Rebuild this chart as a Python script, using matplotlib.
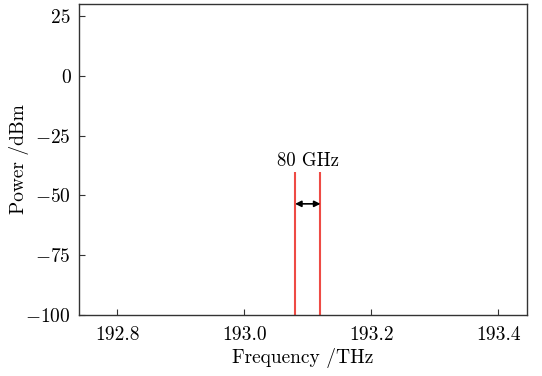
import matplotlib
matplotlib.use("Agg")
import matplotlib.pyplot as plt

# Datos del espectro: dos portadoras separadas 80 GHz
frecuencias_pico = [193.08, 193.12]   # THz
potencias_pico = [-40, -40]           # dBm
piso_ruido = -110                     # dBm (fuera del rango visible)

etiqueta_sep = "80 GHz"
ticks_x = [192.8, 193.0, 193.2, 193.4]
ticks_y = [25, 0, -25, -50, -75, -100]

plt.rcParams["font.family"] = "cmr10"
plt.rcParams["axes.formatter.use_mathtext"] = True
plt.rcParams["mathtext.fontset"] = "cm"

fig = plt.figure(figsize=(5.42, 3.76), dpi=100)
ax = fig.add_axes([79 / 542, 1 - 315 / 376, 448 / 542, 311 / 376])

ax.vlines(frecuencias_pico, piso_ruido, potencias_pico, color="#ee4b45", linewidth=1.5)

# Flecha de separación
ax.annotate("", xy=(frecuencias_pico[0], -53.5), xytext=(frecuencias_pico[1], -53.5),
            arrowprops=dict(arrowstyle="<|-|>", color="black", lw=1.2,
                            shrinkA=0, shrinkB=0, mutation_scale=9))
ax.text(sum(frecuencias_pico) / 2, -39.5, etiqueta_sep, ha="center", va="bottom", fontsize=13.5)

ax.set_xlim(192.74, 193.445)
ax.set_ylim(-100, 30.1)
ax.set_xticks(ticks_x)
ax.set_xticklabels([f"{t:.1f}" for t in ticks_x])
ax.set_yticks(ticks_y)
ax.set_yticklabels([f"${t}$" if t < 0 else str(t) for t in ticks_y])

ax.tick_params(direction="in", length=4, labelsize=14, color="#333333")
ax.tick_params(axis="x", pad=8)
ax.tick_params(axis="y", pad=6)
for s in ax.spines.values():
    s.set_color("#333333")
    s.set_linewidth(1.0)

ax.set_xlabel("Frequency /THz", fontsize=14, labelpad=3)
ax.set_ylabel("Power /dBm", fontsize=14)
ax.yaxis.set_label_coords(-0.112, 0.5)

plt.savefig("out.png", dpi=100)
